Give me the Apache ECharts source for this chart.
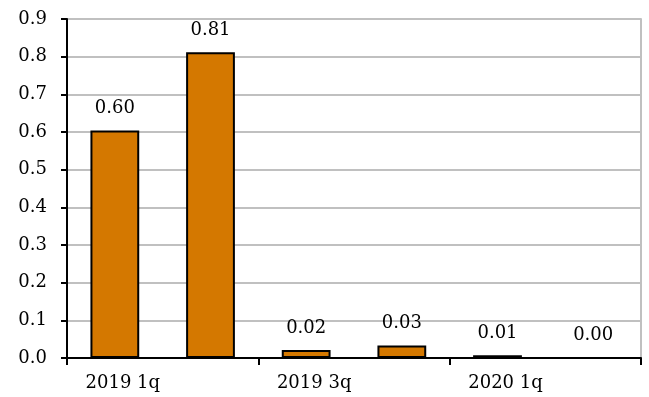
<!DOCTYPE html>
<html><head><meta charset="utf-8">
<script src="https://cdn.jsdelivr.net/npm/echarts@6/dist/echarts.min.js"></script>
<style>html,body{margin:0;padding:0;background:#fff}#c{width:649px;height:397px}</style>
</head><body><div id="c"></div>
<script>
const categories = ['2019 1q','2019 2q','2019 3q','2019 4q','2020 1q','2020 2q'];
const values = [0.604, 0.812, 0.021, 0.033, 0.007, 0.00];
const yMin = 0, yMax = 0.9, yStep = 0.1;
const FONT = 'DejaVu Serif';
const chart = echarts.init(document.getElementById('c'), null, {renderer:'canvas'});
chart.setOption({
  animation:false,
  grid:{left:67,right:8,top:19,bottom:39,containLabel:false},
  xAxis:{type:'category',data:categories,boundaryGap:true,
    axisLine:{lineStyle:{color:'#000',width:2}},
    axisTick:{show:true,interval:1,length:7,lineStyle:{color:'#000',width:2}},
    axisLabel:{interval:1,margin:16,color:'#000',fontFamily:FONT,fontSize:18,padding:[0,0,0,16]},
    splitLine:{show:false}},
  yAxis:[{type:'value',min:yMin,max:yMax,interval:yStep,
    axisLine:{show:true,lineStyle:{color:'#000',width:2}},
    axisTick:{show:true,length:6,lineStyle:{color:'#000',width:2}},
    axisLabel:{margin:20,color:'#000',fontFamily:FONT,fontSize:18,formatter:v=>v.toFixed(1)},
    splitLine:{show:true,lineStyle:{color:'#c0c0c0',width:2}}},
    {type:'value',position:'right',min:yMin,max:yMax,interval:yStep,
    axisLine:{show:true,lineStyle:{color:'#c0c0c0',width:2}},
    axisTick:{show:false},axisLabel:{show:false},splitLine:{show:false}}],
  series:[{type:'bar',data:values,barWidth:'51%',z:3,
    itemStyle:{color:'#D47800',borderColor:'#000',borderWidth:2},
    label:{show:true,position:'top',distance:13,color:'#000',fontFamily:FONT,fontSize:18,
      formatter:p=>p.value.toFixed(2)}}]
});
</script></body></html>
